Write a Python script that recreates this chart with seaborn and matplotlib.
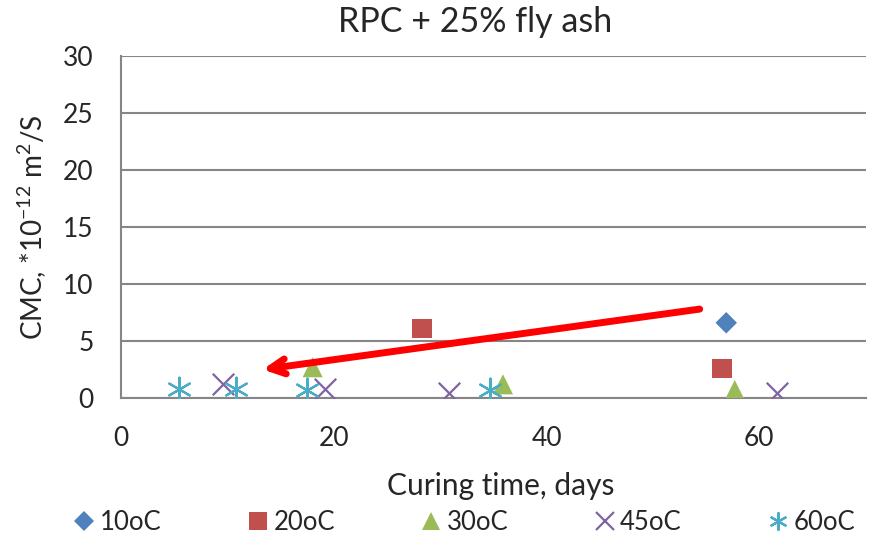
import matplotlib
matplotlib.use("Agg")
import matplotlib.pyplot as plt
import seaborn as sns
import pandas as pd

# Data
days_10 = [56.9]
cmc_10 = [6.6]
days_20 = [28.3, 56.5]
cmc_20 = [6.1, 2.6]
days_30 = [18.0, 35.9, 57.7]
cmc_30 = [2.7, 1.2, 0.7]
days_45 = [9.6, 19.2, 30.8, 61.7]
cmc_45 = [1.2, 0.75, 0.45, 0.45]
days_60 = [5.4, 10.8, 17.5, 34.7]
cmc_60 = [0.8, 0.8, 0.7, 0.7]
series_labels = ["10oC", "20oC", "30oC", "45oC", "60oC"]
arrow_tail = (54.4, 7.8)
arrow_head = (13.3, 2.5)

frames = []
for lab, xs, ys in zip(series_labels,
                       [days_10, days_20, days_30, days_45, days_60],
                       [cmc_10, cmc_20, cmc_30, cmc_45, cmc_60]):
    frames.append(pd.DataFrame({"days": xs, "cmc": ys, "series": lab}))
df = pd.concat(frames, ignore_index=True)

sns.set_theme(style="white")
plt.rcParams["font.family"] = ["Lato", "DejaVu Sans"]
plt.rcParams["mathtext.fontset"] = "custom"
plt.rcParams["mathtext.rm"] = "Lato"
plt.rcParams["mathtext.it"] = "Lato:italic"
plt.rcParams["mathtext.bf"] = "Lato:bold"
plt.rcParams["axes.unicode_minus"] = False

fig = plt.figure(figsize=(8.85, 5.49), dpi=100)
ax = fig.add_axes([0.137, 0.275, 0.841, 0.623])

palette = {"10oC": "#4F81BD", "20oC": "#C0504D", "30oC": "#9BBB59",
           "45oC": "#8064A2", "60oC": "#4BACC6"}
markers = {"10oC": "D", "20oC": "s", "30oC": "^", "45oC": "x", "60oC": (6, 2, 0)}
sizes = {"10oC": 120, "20oC": 200, "30oC": 210, "45oC": 240, "60oC": 290}

for lab in series_labels:
    sub = df[df["series"] == lab]
    kw = dict(color=palette[lab], marker=markers[lab], s=sizes[lab], label=lab, zorder=3)
    if lab in ("45oC", "60oC"):
        kw["linewidth"] = 1.6
    else:
        kw["edgecolor"] = "none"
    sns.scatterplot(data=sub, x="days", y="cmc", ax=ax, legend=False, **kw)

ax.annotate("", xy=arrow_head, xytext=arrow_tail,
            arrowprops=dict(arrowstyle="->,head_length=0.9,head_width=0.45",
                            color="#FF0000", lw=5, shrinkA=0, shrinkB=0),
            zorder=4)

ax.set_xlim(0, 70)
ax.set_ylim(0, 30)
ax.set_xticks([0, 20, 40, 60])
ax.set_yticks(range(0, 31, 5))
ax.yaxis.grid(True, color="#868686", lw=1.5)
ax.xaxis.grid(False)
for s in ["top", "right"]:
    ax.spines[s].set_visible(False)
for s in ["left", "bottom"]:
    ax.spines[s].set_color("#868686")
    ax.spines[s].set_linewidth(1.5)
ax.tick_params(axis="y", length=3, color="#868686", width=1.5, labelsize=19, pad=17)
ax.tick_params(axis="x", length=0, labelsize=19, pad=20)

ax.set_xlabel("Curing time, days", fontsize=21.5, labelpad=16)
ax.xaxis.set_label_coords(0.51, -0.215)
ax.set_ylabel("CMC, *10$^{-12}$ m$^{2}$/S", fontsize=20, labelpad=10)
fig.text(0.537, 0.96, "RPC + 25% fly ash", fontsize=24.5, ha="center", va="center")

handles = []
for lab in series_labels:
    h = plt.Line2D([], [], linestyle="none", marker=markers[lab], color=palette[lab],
                   markersize=13 if lab not in ("10oC",) else 10,
                   markeredgewidth=1.6 if lab in ("45oC", "60oC") else 0,
                   markerfacecolor=palette[lab])
    handles.append(h)
fig.legend(handles, series_labels, loc="center", bbox_to_anchor=(0.5235, 0.048), ncol=5,
           frameon=False, fontsize=18.5, handletextpad=0.1, columnspacing=3.25,
           handlelength=1.0)

fig.savefig("out.png", dpi=100)
